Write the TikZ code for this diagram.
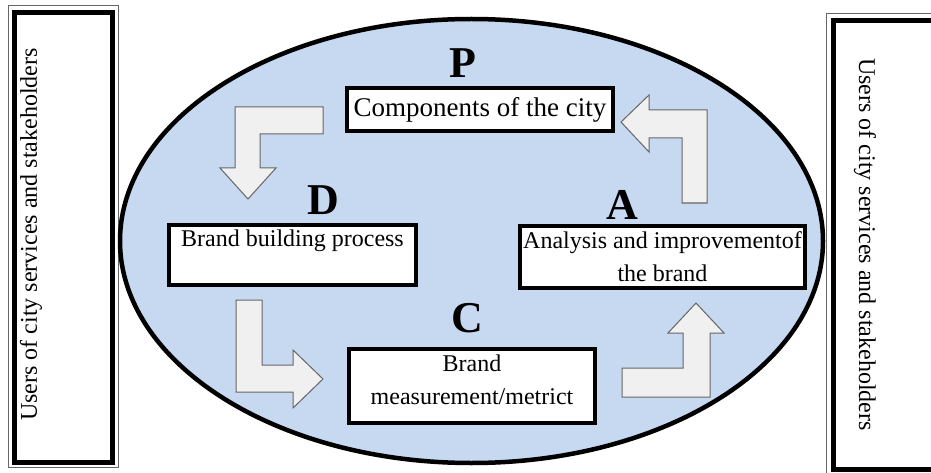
\documentclass[tikz,border=0pt]{standalone}
\usepackage{fontspec}
\setmainfont{Liberation Serif}
\usepackage{tikz}

\definecolor{cyclefill}{RGB}{198,217,241}

\begin{document}
\begin{tikzpicture}[x=1pt,y=-1pt]

	\tikzstyle stage box=[draw, line width=4.5pt, fill=white, inner sep=0pt, align=center, font=\fontsize{24}{33}\selectfont];
	\tikzstyle stage letter=[inner sep=0pt, font=\fontsize{44}{44}\selectfont\bfseries];
	\tikzstyle turn arrow=[fill=black!6, draw=black!60, line width=1pt];
	\tikzstyle side text=[inner sep=0pt, font=\fontsize{24}{24}\selectfont];

	\useasboundingbox (0,0) rectangle (931,473);
	\clip (0,0) rectangle (931,473);

	% users, left and right
	\draw[black!60, line width=1pt] (8,6) rectangle (118.5,467.5);
	\draw[line width=5pt] (14,13) rectangle (112.5,462);
	\node[side text, rotate=90] (usersL) at (31,234.5) {Users of city services and stakeholders};

	\draw[black!60, line width=1pt] (826,14) rectangle (960,476);
	\draw[line width=5pt] (833,21) rectangle (960,469);
	\node[side text, rotate=-90] (usersR) at (865,244.5) {Users of city services and stakeholders};

	% the cycle
	\draw[fill=cyclefill, line width=4.5pt] (471.5,241) ellipse (351.5 and 222);

	\node[stage box, minimum width=266pt, minimum height=43pt, font=\fontsize{27}{33}\selectfont] (comp) at (480,109.5) {Components of the city};
	\node[stage box, minimum width=247pt, minimum height=60pt] (build) at (292.5,255) {Brand building process\\~};
	\node[stage box, minimum width=285pt, minimum height=62pt] (analysis) at (662.5,257) {Analysis and improvementof\\the brand};
	\node[stage box, minimum width=246pt, minimum height=74pt] (measure) at (472,386) {Brand\\measurement/metrict\\[-20pt]~};

		\foreach \lbl/\x/\y in {P/463/63,D/323/200,A/622/205,C/467/318}
			\node[stage letter] (letter\lbl) at (\x,\y) {\lbl};

	% bent arrows, P -> D -> C -> A -> P
	\draw[turn arrow] (323,107) -- (235,107) -- (235,168) -- (220,168) -- (248,199) -- (276,168) -- (260,168) -- (260,134) -- (323,134) -- cycle;
	\draw[turn arrow] (236,300) -- (262,300) -- (262,365) -- (293,365) -- (293,350) -- (323,379) -- (293,408) -- (293,392) -- (236,392) -- cycle;
	\draw[turn arrow] (622,368) -- (683,368) -- (683,333) -- (668,333) -- (696,303) -- (724,333) -- (710,333) -- (710,397) -- (622,397) -- cycle;
	\draw[turn arrow] (621,122) -- (649,95) -- (649,110) -- (707,110) -- (707,203) -- (682,203) -- (682,138) -- (649,138) -- (649,152) -- cycle;

\end{tikzpicture}
\end{document}
